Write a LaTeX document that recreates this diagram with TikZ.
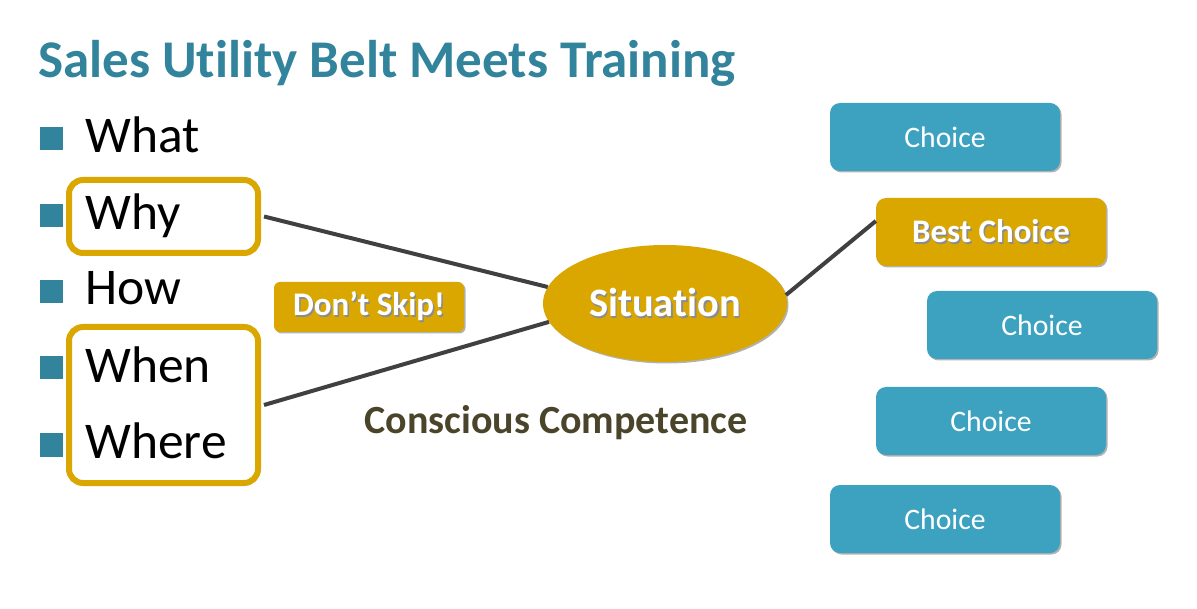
\documentclass[tikz,border=0pt]{standalone}
\usepackage{fontspec}
\setmainfont[Ligatures={NoCommon,NoContextual}]{Carlito}
\usetikzlibrary{shapes.geometric,shadows}
\definecolor{teal}{HTML}{31849B}
\definecolor{choiceblue}{HTML}{3DA2C0}
\definecolor{gold}{HTML}{D9A700}
\definecolor{linegray}{HTML}{404040}
\definecolor{olive}{HTML}{4A452A}
\newcommand\shtext[1]{\makebox[0pt][l]{\kern1.5pt\raisebox{-1.5pt}{\textcolor{black!45}{#1}}}#1}
\tikzset{
  shad/.style={drop shadow={shadow xshift=1.5pt,shadow yshift=-1.5pt,opacity=0.3,fill=black}},
  bulletsq/.style={fill=teal,minimum size=23pt,inner sep=0pt},
  word/.style={anchor=base west,inner sep=0pt,font=\fontsize{51.5}{60}\selectfont},
  goldframe/.style={draw=gold,line width=6pt,rounded corners=14pt,fill=white,shad},
  choicebox/.style={fill=choiceblue,rounded corners=10pt,minimum width=230pt,minimum height=68pt,text=white,font=\fontsize{29.7}{34}\selectfont,shad},
  connector/.style={draw=linegray,line width=4pt}
}
\begin{document}
\begin{tikzpicture}[x=1pt,y=-1pt]
\useasboundingbox[fill=white] (0,0) rectangle (1197,609);
% title
\node[anchor=base west,inner sep=0pt,text=teal,font=\bfseries\fontsize{53}{60}\selectfont] (title) at (38,78) {Sales Utility Belt Meets Training};
% frames
\node[goldframe,minimum width=189pt,minimum height=73pt] (why) at (163.5,216.5) {};
\node[goldframe,minimum width=189pt,minimum height=156pt] (whenwhere) at (163.5,405) {};
% bullets
\node[bulletsq] (b1) at (51.5,138.5) {};
\node[bulletsq] (b2) at (51.5,215.5) {};
\node[bulletsq] (b3) at (51.5,291.5) {};
\node[bulletsq] (b4) at (51.5,368) {};
\node[bulletsq] (b5) at (51.5,445) {};
\node[word] (w1) at (85,152.5) {What};
\node[word] (w2) at (85,230) {Why};
\node[word] (w3) at (85,305) {How};
\node[word] (w4) at (85,383) {When};
\node[word] (w5) at (85,458) {Where};
% situation
\node[ellipse,fill=gold,minimum width=244pt,minimum height=117pt,inner sep=0pt,text=white,font=\bfseries\fontsize{40.4}{46}\selectfont,shad] (sit) at (665,303.5) {\shtext{Situation}};
\node[fill=gold,rounded corners=6pt,minimum width=190pt,minimum height=50pt,inner sep=0pt,text=white,font=\bfseries\fontsize{33}{38}\selectfont,shad] (skip) at (369,307) {\shtext{Don’t Skip!}};
\node[anchor=base,inner sep=0pt,text=olive,font=\bfseries\fontsize{40}{46}\selectfont] (cc) at (556,434) {Conscious Competence};
% choices
\node[choicebox] (c1) at (945,137) {Choice};
\node[choicebox,fill=gold,font=\bfseries\fontsize{32.9}{38}\selectfont] (best) at (991,232) {\shtext{Best Choice}};
\node[choicebox] (c2) at (1042,325) {Choice};
\node[choicebox] (c3) at (991,421) {Choice};
\node[choicebox] (c4) at (945,519) {Choice};
% connectors
\draw[connector] ([xshift=3pt]why.east) -- (sit.172);
\draw[connector] ([xshift=3pt]whenwhere.east) -- (sit.189);
\draw[connector] (sit.4) -- ([yshift=11pt]best.west);
\end{tikzpicture}
\end{document}
